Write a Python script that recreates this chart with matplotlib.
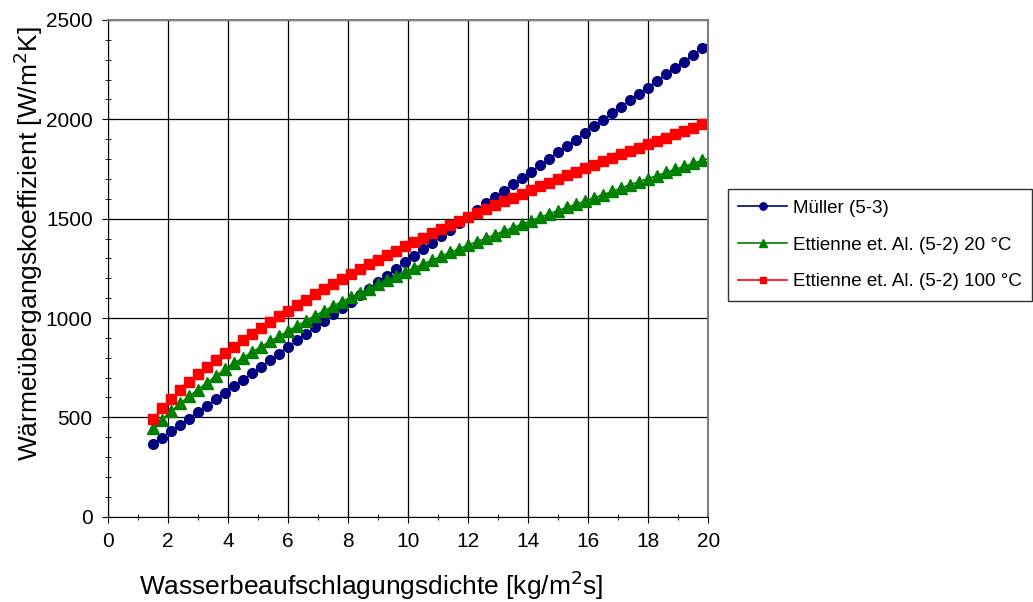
import numpy as np
import matplotlib
matplotlib.use("Agg")
import matplotlib.pyplot as plt
from matplotlib.ticker import MultipleLocator

plt.rcParams['font.family'] = ['Liberation Sans', 'DejaVu Sans']

## Data
x = [1.5, 1.8, 2.1, 2.4, 2.7, 3.0, 3.3, 3.6, 3.9, 4.2, 4.5, 4.8, 5.1, 5.4, 5.7,
     6.0, 6.3, 6.6, 6.9, 7.2, 7.5, 7.8, 8.1, 8.4, 8.7, 9.0, 9.3, 9.6, 9.9, 10.2,
     10.5, 10.8, 11.1, 11.4, 11.7, 12.0, 12.3, 12.6, 12.9, 13.2, 13.5, 13.8, 14.1,
     14.4, 14.7, 15.0, 15.3, 15.6, 15.9, 16.2, 16.5, 16.8, 17.1, 17.4, 17.7, 18.0,
     18.3, 18.6, 18.9, 19.2, 19.5, 19.8, 20.1]

mueller = [368, 398, 429, 461, 494, 526, 559, 592, 625, 657, 689, 722, 755, 787, 820,
           854, 887, 919, 953, 986, 1019, 1050, 1082, 1116, 1148, 1180, 1213, 1247, 1280, 1312,
           1345, 1378, 1411, 1444, 1476, 1510, 1543, 1577, 1607, 1640, 1673, 1705, 1737,
           1770, 1802, 1835, 1866, 1898, 1933, 1966, 1997, 2030, 2062, 2097, 2127, 2160,
           2194, 2227, 2258, 2291, 2325, 2360, 2392]

ett_20 = [445, 488, 530, 570, 606, 640, 674, 708, 742, 772, 800, 828, 856, 882, 909,
          935, 960, 986, 1012, 1036, 1060, 1083, 1105, 1126, 1148, 1170, 1192, 1212, 1232, 1252,
          1272, 1291, 1311, 1330, 1349, 1367, 1385, 1402, 1420, 1438, 1455, 1472, 1490,
          1507, 1524, 1541, 1557, 1573, 1589, 1605, 1621, 1637, 1655, 1671, 1687, 1702,
          1717, 1733, 1748, 1763, 1778, 1793, 1807]

ett_100 = [491, 547, 592, 636, 678, 718, 754, 788, 822, 855, 887, 918, 948, 978, 1008,
           1036, 1064, 1092, 1119, 1145, 1171, 1197, 1222, 1247, 1271, 1294, 1317, 1339, 1361, 1383,
           1405, 1426, 1447, 1467, 1488, 1508, 1528, 1548, 1568, 1587, 1606, 1625, 1644,
           1663, 1681, 1700, 1718, 1736, 1754, 1772, 1789, 1807, 1824, 1841, 1858, 1875,
           1892, 1908, 1925, 1941, 1958, 1974, 1990]

labels = ['Müller (5-3)', 'Ettienne et. Al. (5-2) 20 °C', 'Ettienne et. Al. (5-2) 100 °C']

#%% Plot
fig = plt.figure(figsize=(10.33, 6.02), dpi=100)
ax = fig.add_axes([0.1045, 0.1417, 0.5812, 0.8251])

marks = list(range(len(x) - 1))  # last point only carries the line to the edge
ax.plot(x, mueller, color='#000080', marker='o', ms=7, lw=1.2, markevery=marks, label=labels[0])
ax.plot(x, ett_20, color='#008000', marker='^', ms=8, lw=1.2, markevery=marks, label=labels[1])
ax.plot(x, ett_100, color='#ff0000', marker='s', ms=6.5, lw=1.2, markevery=marks, label=labels[2])

ax.set_xlim(0, 20)
ax.set_ylim(0, 2500)
ax.xaxis.set_major_locator(MultipleLocator(2))
ax.xaxis.set_minor_locator(MultipleLocator(1))
ax.yaxis.set_major_locator(MultipleLocator(500))
ax.yaxis.set_minor_locator(MultipleLocator(100))
ax.grid(which='major', color='black', lw=0.9)
ax.tick_params(which='both', direction='inout', color='black')
ax.tick_params(which='major', length=8, labelsize=15, pad=7)
ax.tick_params(which='minor', length=5)

for side in ['top', 'right']:
    ax.spines[side].set_color('#808080')
    ax.spines[side].set_linewidth(1.5)
for side in ['left', 'bottom']:
    ax.spines[side].set_color('black')

ax.set_xlabel('Wasserbeaufschlagungsdichte [kg/m$^2$s]', fontsize=19)
ax.set_ylabel('Wärmeübergangskoeffizient [W/m$^2$K]', fontsize=19)
ax.xaxis.set_label_coords(0.438, -0.105)
ax.yaxis.set_label_coords(-0.105, 0.55)

leg = ax.legend(loc='upper left', bbox_to_anchor=(1.017, 0.678), fontsize=13.5,
                frameon=True, fancybox=False, edgecolor='black', borderpad=0.55,
                handlelength=2.6, handletextpad=0.3, labelspacing=1.05, markerscale=0.75)
leg.get_frame().set_linewidth(1.0)

fig.savefig('out.png', dpi=100)
